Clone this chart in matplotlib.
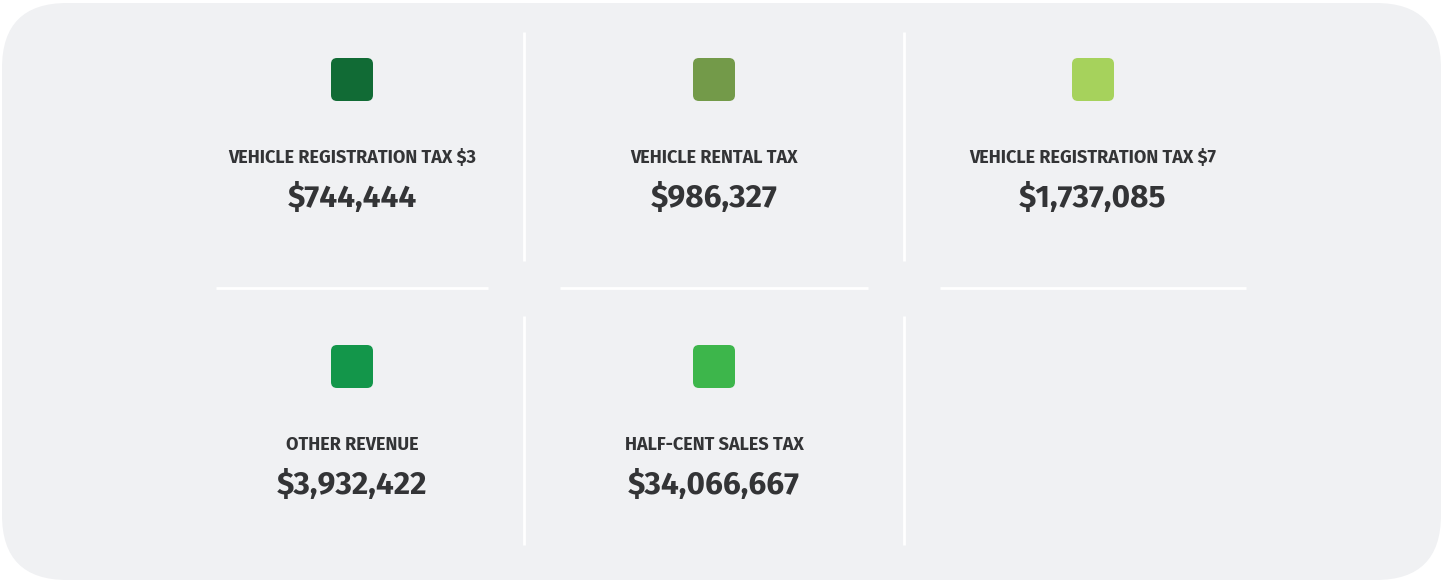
import matplotlib
matplotlib.use("Agg")
import matplotlib.pyplot as plt
from matplotlib.patches import FancyBboxPatch
from matplotlib import font_manager

# revenue sources and amounts
labels = ["VEHICLE REGISTRATION TAX $3", "VEHICLE RENTAL TAX",
          "VEHICLE REGISTRATION TAX $7", "OTHER REVENUE",
          "HALF-CENT SALES TAX"]
amounts = [744444, 986327, 1737085, 3932422, 34066667]
colors = ["#116b35", "#739a49", "#a6d25c", "#13964a", "#3db64b"]

W, H = 1443, 581
names = {f.name for f in font_manager.fontManager.ttflist}
wanted = ["Fira Sans", "Fira Sans Condensed", "Roboto", "DejaVu Sans"]
family = [f for f in wanted if f in names][:1] + ["DejaVu Sans"]
text_col = "#333436"

fig = plt.figure(figsize=(W / 100, H / 100), dpi=100)
ax = fig.add_axes([0, 0, 1, 1])
ax.set_xlim(0, W)
ax.set_ylim(H, 0)
ax.axis("off")

# card background
ax.add_patch(FancyBboxPatch((2 + 65, 3 + 65), W - 4 - 130, H - 4 - 130,
                            boxstyle="round,pad=65", fc="#f0f1f3", ec="none"))

col_x = [352, 714, 1093]
cells = [180, 524, 904, 1282]
row_dy = 287

# separators
for x in cells[1:3]:
    for y0, y1 in [(32, 261), (316, 545)]:
        ax.plot([x, x], [y0, y1], color="white", lw=2, solid_capstyle="butt")
for i in range(3):
    ax.plot([cells[i] + 36, cells[i + 1] - 36], [288, 288], color="white", lw=2,
            solid_capstyle="butt")

for i, (lab, amt, c) in enumerate(zip(labels, amounts, colors)):
    cx = col_x[i % 3]
    dy = row_dy * (i // 3)
    ax.add_patch(FancyBboxPatch((cx - 21 + 6, 58 + 6 + dy), 42 - 12, 43 - 12,
                                boxstyle="round,pad=6", fc=c, ec="none"))
    ax.text(cx, 163 + dy, lab, ha="center", va="baseline", fontsize=13,
            fontweight="bold", color=text_col, family=family)
    ax.text(cx, 207 + dy, f"${amt:,}", ha="center", va="baseline", fontsize=22.8,
            fontweight="bold", color=text_col, family=family)

fig.savefig("out.png", dpi=100, facecolor="white")
